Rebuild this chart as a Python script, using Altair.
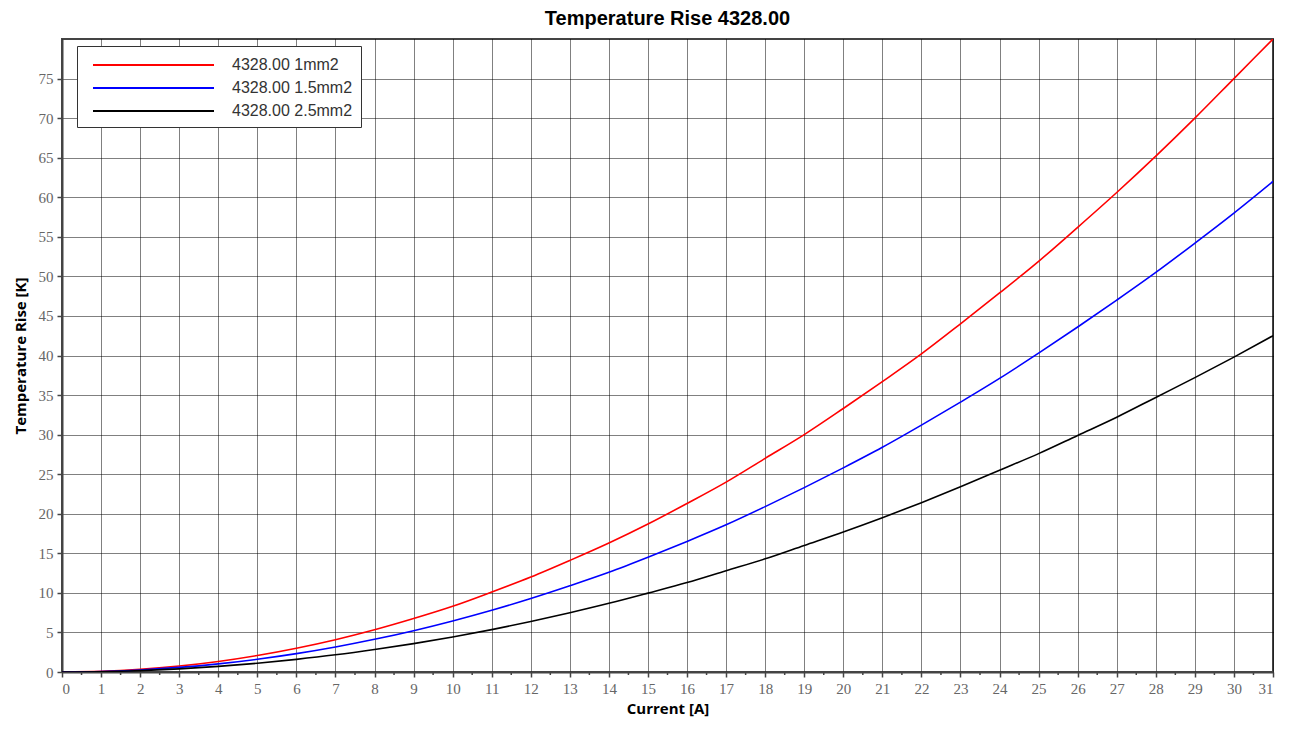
import altair as alt
import pandas as pd

current = list(range(0, 32))
labels = ["4328.00 1mm2", "4328.00 1.5mm2", "4328.00 2.5mm2"]
colors = ["#ff0000", "#0000ff", "#000000"]

rise_1mm2 = [0, 0.08, 0.33, 0.75, 1.33, 2.08, 3.0, 4.08, 5.33, 6.75, 8.3,
             10.1, 12.0, 14.1, 16.3, 18.7, 21.3, 24.0, 27.0, 30.0, 33.3,
             36.7, 40.2, 44.0, 47.9, 51.9, 56.2, 60.6, 65.2, 70.0, 75.0, 80.0]
rise_1_5mm2 = [0, 0.06, 0.26, 0.58, 1.03, 1.61, 2.32, 3.16, 4.13, 5.22, 6.45,
               7.8, 9.29, 10.9, 12.6, 14.5, 16.5, 18.6, 20.9, 23.3, 25.8,
               28.4, 31.2, 34.1, 37.1, 40.3, 43.6, 47.0, 50.5, 54.2, 58.0, 62.0]
rise_2_5mm2 = [0, 0.04, 0.18, 0.4, 0.71, 1.11, 1.6, 2.17, 2.84, 3.59, 4.43,
               5.36, 6.38, 7.49, 8.68, 9.97, 11.3, 12.8, 14.3, 16.0, 17.7,
               19.5, 21.4, 23.4, 25.5, 27.6, 29.9, 32.2, 34.7, 37.2, 39.8, 42.5]

x_ticks = list(range(0, 32))
y_ticks = list(range(0, 80, 5))
minor_ticks = [i + 0.5 for i in range(0, 31)]

rows = []
for lab, series in zip(labels, [rise_1mm2, rise_1_5mm2, rise_2_5mm2]):
    for c, v in zip(current, series):
        rows.append({"current": c, "rise": v, "series": lab, "order": labels.index(lab)})
df = pd.DataFrame(rows)

W, H = 1211, 633
xscale = alt.Scale(domain=[0, 31], nice=False, zero=False)
yscale = alt.Scale(domain=[0, 80], nice=False)

common = dict(grid=True, gridColor="#000000", gridDash=[1, 1], gridOpacity=1, gridWidth=1,
              domainColor="#444444", domainWidth=2,
              tickColor="#444444", tickSize=5, tickWidth=1.5,
              labelFont="Liberation Serif", labelFontSize=15, labelOverlap=False,
              labelColor="#666666",
              titleFont="Open Sans", titleFontSize=15, titleFontWeight="bold",
              titleColor="#000000")

x_axis = alt.Axis(values=x_ticks, format="d", labelPadding=4, titlePadding=5, **common)
y_axis = alt.Axis(values=y_ticks, format="d", labelPadding=4, titlePadding=10, **common)

lines = alt.Chart(df).mark_line(strokeWidth=1.6, clip=True, interpolate="monotone").encode(
    x=alt.X("current:Q", scale=xscale, title="Current [A]", axis=x_axis),
    y=alt.Y("rise:Q", scale=yscale, title="Temperature Rise [K]", axis=y_axis),
    color=alt.Color("series:N", scale=alt.Scale(domain=labels, range=colors),
                    legend=alt.Legend(title=None, orient="none", legendX=15, legendY=7,
                                      fillColor="#ffffff", strokeColor="#333333",
                                      padding=8, rowPadding=4,
                                      symbolType="M-0.3,0H11.8", symbolSize=400,
                                      symbolStrokeWidth=2, labelOffset=125,
                                      labelFont="Liberation Sans", labelFontSize=16,
                                      labelColor="#333333")),
    order=alt.Order("order:Q"),
)

minor = alt.Chart(pd.DataFrame({"m": minor_ticks})).mark_rule(
    color="#444444", strokeWidth=1.5, clip=False
).encode(
    x=alt.X("m:Q", scale=xscale, title="Current [A]", axis=x_axis),
    y=alt.value(H),
    y2=alt.value(H + 3),
)

chart = alt.layer(lines, minor).properties(
    width=W, height=H,
    title=alt.TitleParams("Temperature Rise 4328.00", font="Liberation Sans",
                          fontSize=20, fontWeight="bold", color="#000000",
                          anchor="middle", offset=10),
    padding={"left": 54, "top": 31, "right": 9, "bottom": 50},
    autosize=alt.AutoSizeParams(type="none"),
).configure_view(stroke="#444444", strokeWidth=2)

chart.save("out.html", embed_options={"renderer": "svg", "actions": False})
